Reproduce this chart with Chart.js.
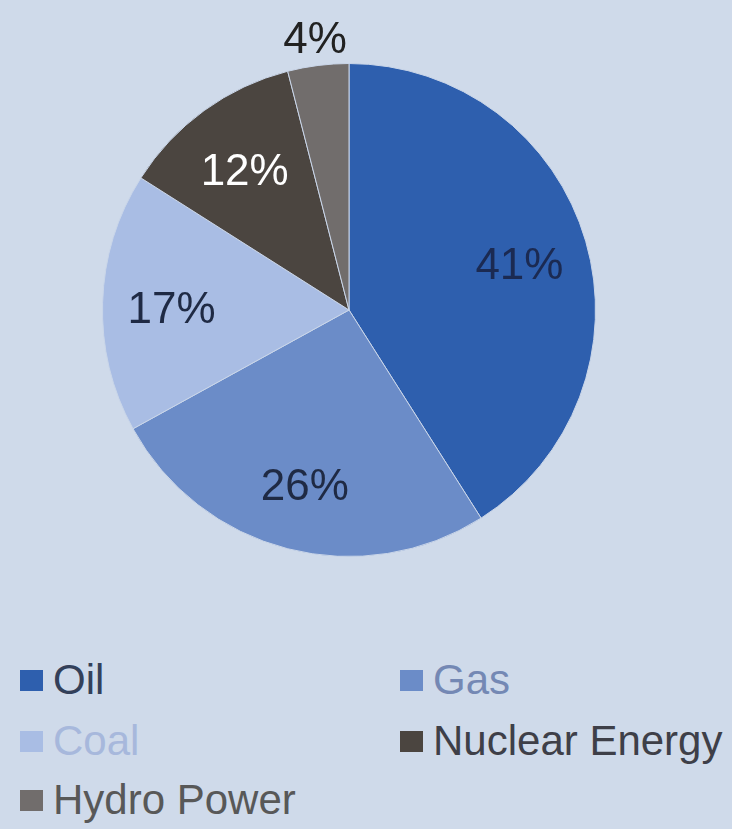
<!DOCTYPE html>
<html>
<head>
<meta charset="utf-8">
<script src="https://cdn.jsdelivr.net/npm/chart.js@4"></script>
<style>
  body { margin: 0; background: #cfdaea; width: 732px; height: 829px; overflow: hidden; font-family: "Liberation Sans", Arial, sans-serif; }
  #wrap { position: absolute; left: 0; top: 0; width: 698px; height: 620px; }
  .item { position: absolute; display: flex; align-items: center; font-size: 42px; line-height: 1; }
  .box { width: 23px; height: 21px; margin-right: 10px; }
</style>
</head>
<body>
<div id="wrap"><canvas id="pie"></canvas></div>
<div id="legend"></div>
<script>
// energy mix shares (%)
const categories = ["Oil", "Gas", "Coal", "Nuclear Energy", "Hydro Power"];
const shares = [41, 26, 17, 12, 4];
const sliceColors = ["#2e5fae", "#6b8cc8", "#a9bde4", "#4b4540", "#716d6c"];
const labelColors = ["#1b2a52", "#1f2a44", "#1f2a44", "#ffffff", "#222222"];
const legendTextColors = ["#33405a", "#7488b4", "#a7b8dc", "#3e3f48", "#585858"];

// percent labels, the small last slice gets its label outside
const pctLabels = {
  id: "pctLabels",
  afterDatasetsDraw(chart) {
    const ctx = chart.ctx;
    const meta = chart.getDatasetMeta(0);
    ctx.save();
    ctx.font = "44px 'Liberation Sans', Arial, sans-serif";
    ctx.textAlign = "center";
    ctx.textBaseline = "middle";
    meta.data.forEach((arc, i) => {
      const p = arc.getProps(["x", "y", "startAngle", "endAngle", "outerRadius"], true);
      const mid = (p.startAngle + p.endAngle) / 2;
      const f = shares[i] < 6 ? 1.1 : 0.72;
      const x = p.x + Math.cos(mid) * p.outerRadius * f;
      const y = p.y + Math.sin(mid) * p.outerRadius * f + (shares[i] < 6 ? 0 : 6);
      ctx.fillStyle = labelColors[i];
      ctx.fillText(shares[i] + "%", x, y);
    });
    ctx.restore();
  }
};

new Chart(document.getElementById("pie"), {
  type: "pie",
  data: {
    labels: categories,
    datasets: [{
      data: shares,
      backgroundColor: sliceColors,
      borderColor: "#c9d5e8",
      borderWidth: 1
    }]
  },
  options: {
    responsive: true,
    maintainAspectRatio: false,
    animation: false,
    layout: { padding: 63 },
    plugins: {
      legend: { display: false },
      tooltip: { enabled: false }
    }
  },
  plugins: [pctLabels]
});

// legend in two columns
const legendPos = [[20, 680], [400, 680], [20, 741], [400, 741], [20, 800]];
const legend = document.getElementById("legend");
categories.forEach((name, i) => {
  const el = document.createElement("div");
  el.className = "item";
  el.style.left = legendPos[i][0] + "px";
  el.style.top = (legendPos[i][1] - 21) + "px";
  el.style.color = legendTextColors[i];
  el.innerHTML = '<span class="box" style="background:' + sliceColors[i] + '"></span>' + name;
  legend.appendChild(el);
});
</script>
</body>
</html>
